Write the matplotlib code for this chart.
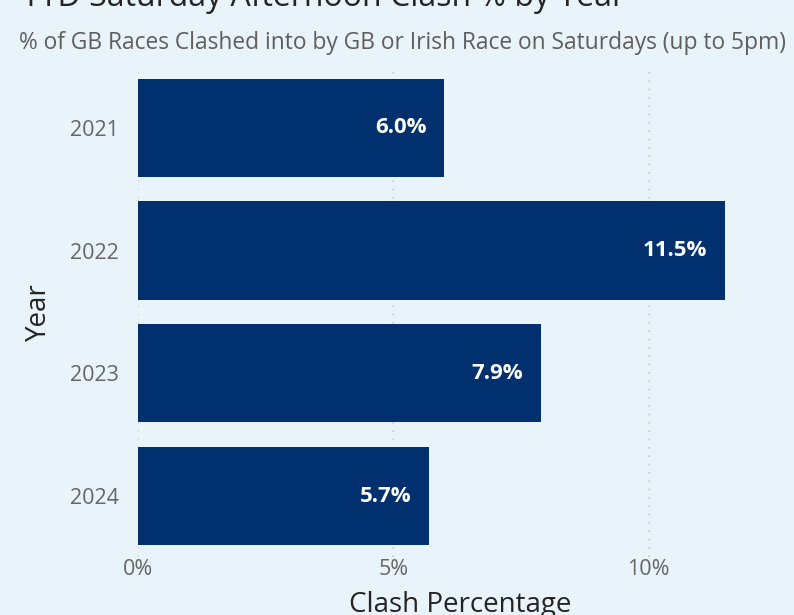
import matplotlib.pyplot as plt
from matplotlib.ticker import FuncFormatter

years = ["2021", "2022", "2023", "2024"]
clash_pct = [6.0, 11.5, 7.9, 5.7]
xticks = [0, 5, 10]

bg = "#E8F3FA"
bar_color = "#00306E"

plt.rcParams['font.family'] = ['Open Sans', 'DejaVu Sans']

fig = plt.figure(figsize=(7.94, 6.15), dpi=100, facecolor=bg)
ax = fig.add_axes([0.174, 0.0935, 0.81, 0.7985], facecolor=bg)

ypos = list(range(len(years)))
ax.barh(ypos, clash_pct, height=0.8, color=bar_color, zorder=2)
ax.set_ylim(len(years) - 0.5, -0.5)
ax.set_xlim(0, 12.6)

for y, v in zip(ypos, clash_pct):
    ax.annotate(f"{v:.1f}%", xy=(v, y), xytext=(-13, 0), textcoords="offset points",
                ha="right", va="center", color="white", fontsize=16, fontweight="bold", zorder=3)

ax.set_yticks(ypos)
ax.set_yticklabels(years)
ax.set_xticks(xticks)
ax.xaxis.set_major_formatter(FuncFormatter(lambda v, p: f"{v:.0f}%"))
ax.tick_params(axis="both", length=0, labelsize=15.5, labelcolor="#666666")
ax.tick_params(axis="y", pad=14)
ax.tick_params(axis="x", pad=1)
ax.grid(axis="x", color="#C8C8C8", linestyle=(0, (1, 4)), linewidth=1.2, zorder=1)
for s in ax.spines.values():
    s.set_visible(False)

ax.set_ylabel("Year", fontsize=20, color="#252423", labelpad=12)
ax.set_xlabel("Clash Percentage", fontsize=20, color="#252423", labelpad=8)

fig.text(0.028, 1 - 6 / 615, "YTD Saturday Afternoon Clash % by Year", fontsize=23,
         color="#252423", ha="left", va="baseline")
fig.text(0.024, 1 - 43 / 615, "% of GB Races Clashed into by GB or Irish Race on Saturdays (up to 5pm)",
         fontsize=16.4, color="#605E5C", ha="left", va="center")

fig.savefig("out.png", dpi=100, facecolor=bg)
